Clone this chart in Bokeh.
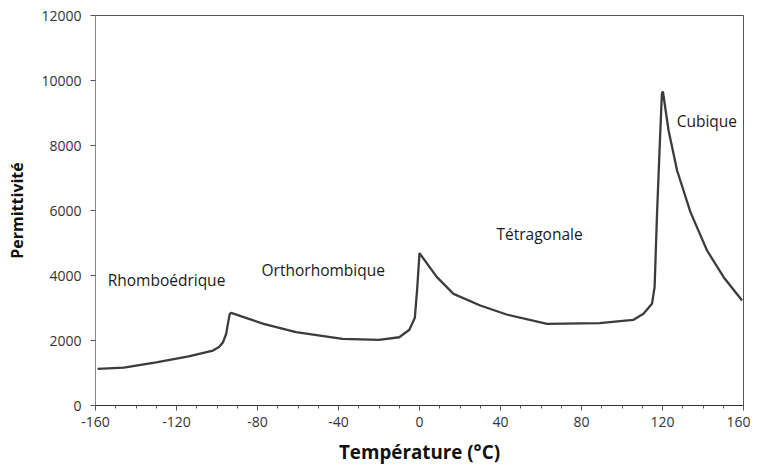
from bokeh.plotting import figure
from bokeh.models import Range1d, FixedTicker, Label
from bokeh.embed import file_html
from bokeh.resources import INLINE

temperature = [-159, -146, -130, -114, -102, -99, -97, -95.5, -94.8, -93.7, -93,
               -85, -77, -61, -38, -20, -10, -5, -2.3, -1.2, 0,
               8.6, 16.8, 30, 43, 63, 89, 99, 105.7, 110.6, 114.8, 116.1,
               117.3, 118.6, 119.7, 120.2, 123, 127.2, 133.8, 142, 150.2, 159.3]
permittivity = [1130, 1165, 1330, 1510, 1692, 1800, 1948, 2200, 2450, 2820, 2850,
                2680, 2513, 2256, 2051, 2020, 2100, 2330, 2700, 3540, 4687,
                3949, 3436, 3077, 2800, 2513, 2533, 2594, 2636, 2821, 3128, 3641,
                5897, 7949, 9590, 9662, 8462, 7231, 5950, 4769, 3948, 3231]

phase_names = ["Rhomboédrique", "Orthorhombique", "Tétragonale", "Cubique"]
phase_x = [-154, -78, 38, 127]
phase_y = [3850, 4180, 5290, 8740]

x_ticks = [-160, -120, -80, -40, 0, 40, 80, 120, 160]
x_tick_labels = ["-160", "-120", "-80", "-40", "0", "40", "80", "120", "160"]
y_ticks = [0, 2000, 4000, 6000, 8000, 10000, 12000]

p = figure(width=750, height=470, output_backend="svg", toolbar_location=None,
           x_range=Range1d(-160, 160), y_range=Range1d(0, 12000),
           min_border_left=95, min_border_right=7, min_border_top=15, min_border_bottom=65)
p.background_fill_color = "white"
p.border_fill_color = "white"
p.outline_line_color = "#555555"
p.outline_line_width = 1
p.xgrid.visible = False
p.ygrid.visible = False

p.line(temperature, permittivity, line_color="#3c3c3c", line_width=2.3)

for name, tx, ty in zip(phase_names, phase_x, phase_y):
    p.add_layout(Label(x=tx, y=ty, text=name, text_font="Open Sans", text_font_size="15.5px",
                       text_color="#1a1a1a", text_baseline="middle", text_align="left"))

p.xaxis.ticker = FixedTicker(ticks=x_ticks, minor_ticks=list(range(-160, 161, 10)))
p.xaxis.major_label_overrides = {t: s for t, s in zip(x_ticks, x_tick_labels)}
p.yaxis.ticker = FixedTicker(ticks=y_ticks, minor_ticks=[])
for ax in (p.xaxis[0], p.yaxis[0]):
    ax.major_label_text_font = "Open Sans"
    ax.major_label_text_font_size = "14px"
    ax.major_label_text_color = "#333333"
    ax.major_tick_in = 0
    ax.major_tick_out = 5
    ax.minor_tick_in = 0
    ax.minor_tick_out = 3
    ax.major_tick_line_color = "#555555"
    ax.minor_tick_line_color = "#555555"
    ax.axis_label_text_font = "Open Sans"
    ax.axis_label_text_font_style = "bold"
    ax.axis_label_text_color = "#111111"
p.xaxis.axis_line_color = "#333333"
p.yaxis.axis_line_color = "#888888"
p.xaxis.axis_label = "Température (°C)"
p.xaxis.axis_label_text_font_size = "18.8px"
p.yaxis.axis_label = "Permittivité"
p.yaxis.axis_label_text_font_size = "16px"
p.xaxis.major_label_standoff = 6
p.xaxis.axis_label_standoff = 9
p.yaxis.major_label_standoff = 9
p.yaxis.axis_label_standoff = 10

open("out.html", "w").write(file_html(p, INLINE))
